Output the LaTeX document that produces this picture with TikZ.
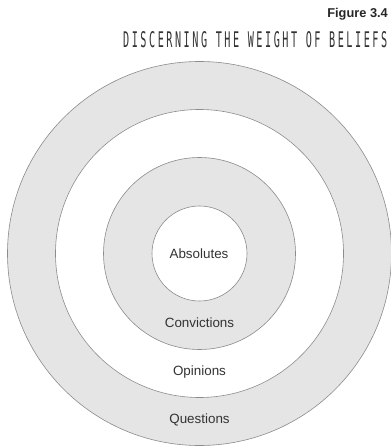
\documentclass[tikz,border=0pt]{standalone}
\usepackage{fontspec}
\setmainfont{Liberation Sans}
\newfontfamily\headmono[LetterSpace=25]{DejaVu Sans Mono}
\begin{document}
\begin{tikzpicture}[x=1bp,y=-1bp,
  ring/.style={circle,draw=black!45,line width=0.6bp,inner sep=0pt,minimum size=#1},
  band/.style={fill=black!10},
  hole/.style={fill=white},
  lbl/.style={text=black!80,font=\fontsize{13.4bp}{15bp}\selectfont,inner sep=0pt}]
  \useasboundingbox[fill=white] (0,0) rectangle (390,447);
  \coordinate (c) at (199.5,253.5);

  % concentric rings, outermost first
  \node[ring=384bp,band] (questions) at (c) {};
  \node[ring=288bp,hole] (opinions) at (c) {};
  \node[ring=192bp,band] (convictions) at (c) {};
  \node[ring=95bp,hole] (absolutes) at (c) {};

  % ring labels
  \node[lbl] (tabs) at (199,254) {Absolutes};
  \node[lbl] (tconv) at (199.5,323) {Convictions};
  \node[lbl] (topin) at (199.5,372) {Opinions};
  \node[lbl] (tques) at (199.5,420) {Questions};

  % heading
  \node[anchor=base east,inner sep=0pt,text=black!85,
        font=\bfseries\fontsize{12.8bp}{14bp}\selectfont] (fig) at (388,18) {Figure 3.4};
  \node[anchor=base west,inner sep=0pt,text=black!80] (title) at (123,48)
    {\resizebox{264bp}{16bp}{\headmono DISCERNING THE WEIGHT OF BELIEFS}};
\end{tikzpicture}
\end{document}
